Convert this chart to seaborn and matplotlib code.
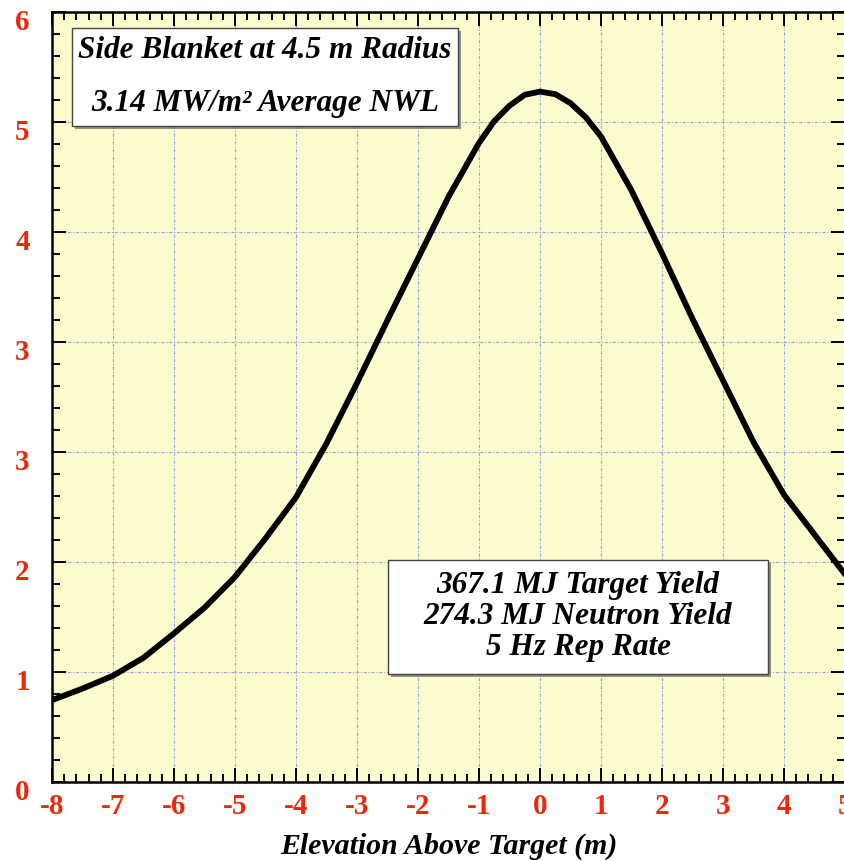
import numpy as np
import matplotlib
matplotlib.use("Agg")
import matplotlib.pyplot as plt
import matplotlib.patheffects as pe
from matplotlib.patches import Rectangle
from matplotlib.ticker import MultipleLocator, AutoMinorLocator, FixedLocator, FuncFormatter
from matplotlib.transforms import ScaledTranslation
import seaborn as sns

# Neutron wall loading along the side blanket
elevation = [-8, -7.5, -7, -6.5, -6, -5.5, -5, -4.5, -4, -3.5, -3, -2.5, -2, -1.5,
             -1, -0.75, -0.5, -0.25, 0, 0.25, 0.5, 0.75, 1, 1.5, 2, 2.5, 3, 3.5,
             4, 4.5, 5]
wall_load = [0.64, 0.73, 0.83, 0.97, 1.16, 1.36, 1.60, 1.90, 2.22, 2.64, 3.11, 3.60,
             4.08, 4.56, 4.98, 5.15, 5.27, 5.355, 5.38, 5.36, 5.29, 5.18, 5.03, 4.61,
             4.12, 3.61, 3.13, 2.65, 2.24, 1.93, 1.62]

info_top = ["Side Blanket at 4.5 m Radius", "3.14 MW/m² Average NWL"]
info_bottom = ["367.1 MJ Target Yield", "274.3 MJ Neutron Yield", "5 Hz Rep Rate"]
x_label = "Elevation Above Target (m)"

RED = "#e8290b"
SERIF = ["Liberation Serif", "DejaVu Serif"]

sns.set_style("ticks")
plt.rcParams["font.family"] = SERIF

fig = plt.figure(figsize=(8.44, 8.62), dpi=100)
ax = fig.add_axes([52 / 844, 1 - 783.3 / 862, 793 / 844, 770.3 / 862])
ax.set_facecolor("#fbfbcd")

sns.lineplot(x=elevation, y=wall_load, ax=ax, color="black", linewidth=4.2,
             zorder=3, solid_joinstyle="round", solid_capstyle="round")

ax.set_xlim(-8, 5)
ax.set_ylim(0, 6)
ax.xaxis.set_major_locator(MultipleLocator(1))
ax.yaxis.set_major_locator(FixedLocator(np.arange(8) * 6 / 7))
ax.xaxis.set_minor_locator(AutoMinorLocator(5))
ax.yaxis.set_minor_locator(AutoMinorLocator(5))
ax.yaxis.set_major_formatter(FuncFormatter(lambda v, p: f"{v:.0f}"))
ax.xaxis.set_major_formatter(FuncFormatter(lambda v, p: f"{v:.0f}"))

ax.grid(which="major", color="#98a3e2", linestyle=(0, (3, 1.5, 1, 1.5)), linewidth=0.8)
ax.set_axisbelow(True)

ax.tick_params(which="both", direction="in", top=True, right=True,
               color="black", width=1.4)
ax.tick_params(which="major", length=10)
ax.tick_params(which="minor", length=6)
ax.tick_params(axis="x", pad=7)
ax.tick_params(axis="y", pad=16)
for sp in ax.spines.values():
    sp.set_linewidth(1.8)
    sp.set_color("black")

for lab in ax.get_xticklabels() + ax.get_yticklabels():
    lab.set_fontsize(21)
    lab.set_fontweight("bold")
    lab.set_color(RED)
for lab in ax.get_yticklabels():
    lab.set_transform(lab.get_transform() + ScaledTranslation(0, -0.06, fig.dpi_scale_trans))

ax.set_xlabel(x_label, fontsize=21.5, fontweight="bold", fontstyle="italic",
              color="black", va="center")
ax.xaxis.set_label_coords(0.5, (783.3 - 846) / 770.3)
ax.set_ylabel("")

# Annotation boxes (figure pixel layout)
shadow = [pe.withSimplePatchShadow(offset=(2, -2), shadow_rgbFace="#777777", alpha=0.8)]


def info_box(x0, y0, x1, y1, lines, ys):
    rect = Rectangle((x0 / 844, 1 - y1 / 862), (x1 - x0) / 844, (y1 - y0) / 862,
                     transform=fig.transFigure, facecolor="white",
                     edgecolor="#444444", linewidth=1.0, zorder=5)
    rect.set_path_effects(shadow)
    fig.patches.append(rect)
    cx = (x0 + x1) / 2 / 844
    for txt, yy in zip(lines, ys):
        fig.text(cx, 1 - yy / 862, txt, ha="center", va="center", fontsize=22.5,
                 fontweight="bold", fontstyle="italic", color="black", zorder=6)


info_box(72, 29, 458, 127, info_top, [51, 104])
info_box(388, 561, 768, 675, info_bottom, [586, 617, 648])

fig.savefig("out.png", dpi=100)
